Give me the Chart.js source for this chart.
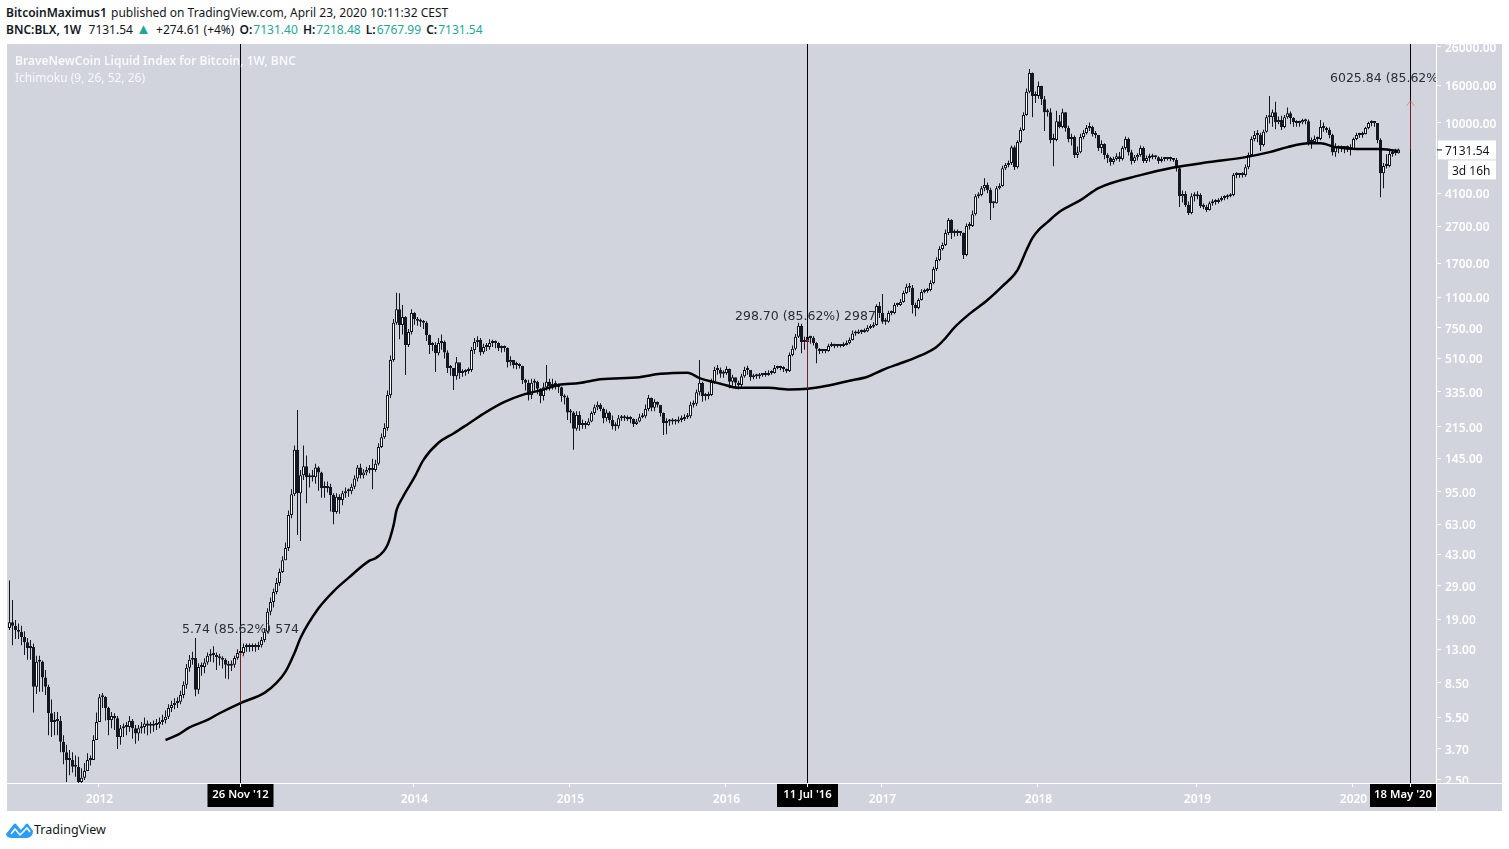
<!DOCTYPE html>
<html>
<head>
<meta charset="utf-8">
<title>BNC:BLX 1W</title>
<script src="https://cdn.jsdelivr.net/npm/chart.js@4/dist/chart.umd.min.js"></script>
<style>
    body { margin: 0; background: #fff; overflow: hidden; font-family: "Noto Sans", sans-serif; color: #131722; }
    .head { position: absolute; left: 6px; font-size: 12px; line-height: 16px; white-space: nowrap; }
    .head b { font-weight: 600; margin-left: 2px; margin-right: 1px; }
    .head b:first-child { margin-left: 0; }
    .head span { color: #26a69a; }
    .head i { font-style: normal; color: #26a69a; font-size: 15px; line-height: 12px; margin-right: 2px; }
    #panel { position: absolute; left: 7px; top: 44px; width: 1495px; height: 767px; background: #d1d4dc; overflow: hidden; }
    #myChart { display: block; }
    #logo { position: absolute; left: 6px; top: 822px; }
    #brand { position: absolute; left: 34px; top: 822px; font-size: 12.5px; line-height: 16px; }
</style>
</head>
<body>
<div class="head" style="top:5px"><b>BitcoinMaximus1</b> published on TradingView.com, April 23, 2020 10:11:32 CEST</div>
<div class="head" style="top:22px"><b>BNC:BLX, 1W</b>&nbsp; 7131.54 <i>▲</i> +274.61 (+4%) <b>O:</b><span>7131.40</span> <b>H:</b><span>7218.48</span> <b>L:</b><span>6767.99</span> <b>C:</b><span>7131.54</span></div>
<div id="panel"><canvas id="myChart" width="1495" height="767"></canvas></div>
<svg id="logo" width="27" height="16" viewBox="0 0 27 16"><path d="M0 12 L8 2 Q9 1 10 2 L15 8 L20 2 Q21 1 22 2 L27 9 Q27 15 21 16 L5 16 Q0 15 0 12 Z" fill="#2a9df4"/><path d="M5 12 L9 7 L14 13 L21 6 L24 10" fill="none" stroke="#fff" stroke-width="1.5"/></svg>
<div id="brand">TradingView</div>
<script>
// weekly candles, first one is the week of 6 Jun 2011
const closes = [
    18.3,17.5,16.6,16.2,15.2,14.2,13.2,13.4,8.1,11.1,
    11.1,9.1,8.1,5.8,5.2,5.33,5.26,4.05,3.55,3.22,
    3.22,2.95,2.95,2.44,2.57,2.8,3.22,3.22,4.14,5.2,
    7.1,7.13,6.2,5.33,5.6,5.45,4.3,4.8,4.88,4.88,
    5.26,4.8,4.5,4.8,4.88,5.1,4.95,4.95,5.0,5.05,
    5.2,5.33,5.55,6.2,6.44,6.6,6.7,7.3,8.3,10.3,
    11.4,11.65,7.8,10.4,10.4,11,12,12.2,12.1,11.8,
    11.6,11.4,10.7,10.55,10.7,11.65,12.4,12.4,13.4,13.4,
    13.4,13.4,13.4,13.7,14.6,16.2,20.9,23.6,26.8,30,
    34.5,40,46.7,70.8,92,161,93,117,131,114,
    114,114,129,121,99.5,99.5,101,91,73.5,89,
    85.5,93,95.5,95.5,101,112,129,117,121,125,
    128,125,135,167,189,212,322,500,800,950,
    778,860,605,712,905,840,820,810,800,686,
    605,605,545,620,628,550,452,452,408,486,
    425,430,436,441,568,628,644,552,590,590,
    620,620,620,582,582,582,486,500,470,470,
    464,389,375,322,375,380,348,318,355,380,
    360,370,365,355,318,312,258,258,210,250,
    220,226,220,230,256,276,284,270,240,258,
    235,217,217,240,240,240,238,238,223,230,
    243,246,270,310,274,295,284,256,226,230,
    230,232,230,235,238,243,246,284,288,333,
    375,318,318,322,380,441,441,420,425,447,
    380,403,375,365,408,441,441,403,408,408,
    414,414,414,425,425,452,452,452,447,436,
    533,576,670,770,628,628,670,660,620,576,
    560,560,560,597,605,597,597,597,605,620,
    644,700,700,712,712,720,750,760,778,988,
    905,810,810,905,905,1001,1001,1040,1165,1260,
    1245,1001,965,1066,1180,1195,1209,1320,1575,1766,
    2030,2133,2480,2924,2480,2480,2480,2480,1880,2710,
    2710,3150,3955,4008,4375,4547,4269,3620,3620,4375,
    4490,5630,5851,6000,7340,5700,7825,9098,10993,14750,
    18700,13970,13970,15850,13450,11400,11400,8020,8020,10190,
    9450,11400,9330,8120,8330,6638,6890,8330,8760,9330,
    9450,8650,8542,7250,7630,6638,6390,6080,6310,6550,
    6310,7250,8120,6890,6155,6470,6638,7250,6155,6390,
    6550,6470,6470,6155,6310,6310,6310,6310,6232,5630,
    3955,4060,3533,3200,3955,3955,4008,3490,3445,3317,
    3620,3670,3670,3763,3860,3905,3955,4008,5158,5158,
    5158,5158,5700,6638,8120,8542,8542,7530,8900,10700,
    10700,11400,10060,10321,9450,10700,11260,10590,10060,9940,
    10060,10321,10190,7825,7825,8120,8120,9450,9330,9098,
    8542,6890,7340,7250,7250,7250,7340,7160,8120,8542,
    8542,8650,9330,9940,9940,9940,8020,5280,5780,5780,
    6720,6800,6800,7131.54
];
const highs = [
    31,24.2,18.8,18,17.5,16.3,15,14.6,14,12,
    12,11.3,10,8.3,6.9,5.9,5.9,5.6,4.4,3.9,
    3.65,3.55,3.4,3.35,2.9,3.1,3.5,3.4,4.4,5.85,
    7.4,7.5,7.2,6.3,5.9,5.8,5.6,5,5.1,5.2,
    5.6,5.4,5,5,5.2,5.5,5.3,5.2,5.3,5.4,
    5.5,5.7,6,6.5,6.8,7,7.1,7.7,8.7,10.8,
    12.1,12.6,15,10.9,11,11.6,12.5,13,13.5,12.5,
    12.3,11.9,11.6,11.2,11.3,12,13,13,14,14,
    14,14,14,14.3,15.2,17,21.8,25,28,32,
    36,42,50,75,98,170,266,125,170,150,
    120,125,135,131,122,108,108,105,93,93,
    92,96,100,99,105,117,133,135,126,130,
    133,144,142,175,198,225,340,530,840,1170,
    1160,1000,870,740,950,915,860,845,830,815,
    690,625,625,660,690,640,565,470,440,520,
    445,445,445,455,590,660,675,660,615,620,
    650,645,640,625,600,600,585,525,495,490,
    480,465,395,390,395,395,385,350,375,470,
    395,395,385,372,358,325,320,270,262,262,
    262,236,232,240,262,285,296,290,275,268,
    262,248,228,250,250,250,248,246,240,238,
    254,256,285,322,312,305,296,280,258,240,
    238,240,238,245,248,252,256,295,300,345,
    500,380,330,335,395,460,470,455,440,462,
    450,415,400,385,420,460,465,440,420,420,
    425,425,435,440,440,470,465,465,462,450,
    550,600,695,800,790,670,690,680,675,625,
    580,575,575,615,625,615,612,612,625,640,
    665,725,725,735,735,745,775,785,805,1010,
    1040,1150,850,930,935,1030,1030,1080,1200,1310,
    1320,1290,1030,1090,1220,1230,1240,1370,1620,1830,
    2100,2200,2600,3000,2950,2600,2600,2550,2500,2800,
    2850,3300,4050,4150,4500,4950,4700,4400,3700,4500,
    4650,5800,6000,6200,7500,7500,8000,9400,11400,15400,
    19650,18800,14800,16800,15900,14000,11900,12000,8700,11600,
    11000,11900,11400,9600,8700,8500,7400,8700,9100,9700,
    10000,9600,9000,8500,8000,7700,6800,6500,6500,6800,
    6900,7450,8400,8300,7100,6650,6800,7500,7400,6600,
    6750,6750,6650,6550,6500,6450,6450,6500,6400,6400,
    5700,4250,4200,3700,4100,4150,4200,4100,3600,3550,
    3700,3800,3800,3850,3950,4000,4050,4100,5300,5350,
    5300,5350,5900,6850,8400,9000,9100,8800,9150,11000,
    13970,11800,13000,10800,10900,11000,12100,11500,10700,10300,
    10250,10500,10500,10400,8300,8500,8400,10321,10000,9500,
    9400,8700,7700,7500,7500,7400,7500,7600,8300,8800,
    8800,8900,9500,10100,10300,10200,9950,8200,6000,6700,
    7000,7100,7200,7218.48
];
const lows = [
    16.6,13.7,14.8,14.8,13.7,12.1,11.4,11.4,5.85,7.4,
    7.6,7.6,7.3,4.4,4.3,4.4,4.4,3.55,3.05,2.44,
    2.65,2.75,2.6,2.3,2.3,2.5,2.95,3,3.8,4.8,
    6.6,6.2,5.3,4.4,4.8,4.7,3.7,3.9,4.3,4.4,
    4.6,4.2,3.95,4.1,4.5,4.5,4.4,4.5,4.6,4.7,
    4.8,5,5.1,5.4,5.9,6.1,6.2,6.5,7,7.9,
    9.8,10.7,7.2,7.4,9.3,9.6,10.7,11.1,11,10,
    10.6,10.2,9,8.9,9.9,10.3,11.4,11.8,12,12.6,
    12.6,12.7,12.6,12.9,13.3,14.2,16,20,22,26,
    29,34,40,45,68,90,55,51,110,82,
    100,108,105,96,88,88,94,74,63,72,
    72,80,88,89,92,98,108,112,112,117,
    120,98,122,132,165,185,205,310,490,780,
    650,690,414,590,690,780,770,760,740,635,
    540,560,430,530,570,510,425,410,343,390,
    395,405,410,420,430,540,590,530,540,560,
    570,590,580,560,550,555,455,465,450,445,
    450,370,340,300,306,340,325,290,300,340,
    340,345,345,330,295,285,235,225,161,205,
    205,210,210,218,228,250,265,262,225,230,
    225,208,205,210,232,232,232,225,215,220,
    228,240,240,262,262,262,275,245,194,196,
    218,222,222,225,228,232,238,240,275,280,
    320,295,300,305,318,370,415,400,400,415,
    350,362,355,345,355,400,415,385,392,395,
    395,405,405,410,415,420,445,440,430,425,
    430,525,565,660,545,570,610,615,600,480,
    540,545,545,555,590,580,585,585,590,600,
    610,640,680,695,695,705,710,740,750,770,
    850,790,780,800,880,890,980,990,1030,1150,
    1180,900,870,950,1060,1160,1170,1190,1300,1540,
    1740,1990,2110,2420,2300,2380,2390,2400,1790,1850,
    2600,2680,3100,3850,3950,4200,4100,2924,3400,3600,
    4300,4450,5500,5700,5850,5500,5600,7700,9000,10900,
    14500,10700,12800,13500,12500,9000,10800,7700,5770,7900,
    9300,9300,8900,7800,7500,6400,6400,6800,8100,8600,
    9000,8400,8200,7000,6800,6300,6000,5800,5900,6200,
    6100,6200,7100,6600,5900,6000,6200,6500,6000,6000,
    6100,6300,6300,5950,6050,6150,6200,6150,6100,5400,
    3445,3650,3450,3114,3150,3700,3800,3400,3350,3240,
    3300,3500,3550,3600,3700,3750,3800,3900,3950,4950,
    4980,5000,5050,5550,6500,7900,7800,7000,7400,8800,
    9900,9500,9200,9800,9100,9300,10500,9800,9500,9500,
    9500,9800,9800,7500,7200,7700,7800,8000,8900,8800,
    8200,6600,6500,6800,6900,6800,6900,6600,7100,8000,
    8250,8250,8600,9200,9550,9500,7700,3905,4375,5600,
    5700,6500,6600,6767.99
];
const firstOpen = 17.0;

// the thick ichimoku line, read at these weeks only
const ichimokuWeeks = [52,56,60,66,70,77,85,89,92,95,97,103,108,113,120,122,126,128,129,131,135,138,143,148,153,159,165,171,178,183,190,197,210,217,226,230,237,243,253,260,266,272,280,286,291,297,302,309,312,315,320,326,331,336,339,341,343,346,350,357,363,377,388,400,412,420,426,433,437,442,449,456,463];
const ichimokuValues = [4.14,4.41,4.85,5.33,5.8,6.6,7.5,8.5,9.8,12.4,15,21.8,27,32,39.8,41,48.5,62,75,88,114,142,176,198,224,260,295,322,345,365,374,392,403,420,426,398,371,352,352,345,348,360,385,405,441,480,515,590,660,755,895,1066,1270,1556,2003,2335,2577,2850,3250,3763,4380,5158,5680,6080,6470,6890,7340,7700,7700,7340,7160,7160,7000];

const yTicks = [26000,16000,10000,4100,2700,1700,1100,750,510,335,215,145,95,63,43,29,19,13,8.5,5.5,3.7,2.5];
const yearWeeks = [30,135,187,239,291,343,396,448];
const yearLabels = ['2012','2014','2015','2016','2017','2018','2019','2020'];

// the three vertical markers and their long position arrows
const markerWeeks = [77,266,467];
const markerLabels = ["26 Nov '12","11 Jul '16","18 May '20"];
const arrowBase = [6.6,348,7131.54];
const arrowTip = [12.4,650,13157];

const WEEK_COUNT = 476;
const weeks = [];
for (let i = 0; i < WEEK_COUNT; i++) {
    weeks.push(new Date(Date.UTC(2011, 5, 6 + i * 7)).toISOString().slice(0, 10));
}

// a weekly candle opens where the week before closed
const opens = closes.map((c, i) => i === 0 ? firstOpen : closes[i - 1]);

const DARK = '#131722';
const ARROW_RED = 'rgba(225,70,70,0.5)';

const wickData = closes.map((c, i) => [lows[i], highs[i]]);
const bodyData = closes.map((c, i) => [Math.min(opens[i], c), Math.max(opens[i], c)]);
const bodyColors = closes.map((c, i) => c >= opens[i] ? '#ffffff' : DARK);

const ichimokuData = weeks.map(() => null);
ichimokuWeeks.forEach((w, i) => { ichimokuData[w] = ichimokuValues[i]; });

const markerData = weeks.map(() => null);
const arrowData = weeks.map(() => null);
markerWeeks.forEach((w, i) => {
    markerData[w] = [2, 30000];
    arrowData[w] = [arrowBase[i], arrowTip[i]];
});

const overlay = {
    id: 'overlay',
    afterDatasetsDraw(chart) {
        const ctx = chart.ctx;
        const x = chart.scales.x;
        const y = chart.scales.y;
        const area = chart.chartArea;

        ctx.save();
        ctx.beginPath();
        ctx.rect(area.left, area.top, area.right - area.left, area.bottom - area.top);
        ctx.clip();

        // arrow heads
        ctx.strokeStyle = ARROW_RED;
        ctx.lineWidth = 1;
        markerWeeks.forEach((w, i) => {
            const px = x.getPixelForValue(w);
            const py = y.getPixelForValue(arrowTip[i]);
            ctx.beginPath();
            ctx.moveTo(px - 4, py + 5);
            ctx.lineTo(px, py);
            ctx.lineTo(px + 4, py + 5);
            ctx.stroke();
        });

        // measure texts
        ctx.fillStyle = '#2a2e39';
        ctx.font = '12.5px "DejaVu Sans"';
        ctx.textBaseline = 'middle';
        ctx.textAlign = 'left';
        ctx.fillText('5.74 (85.62%) 574', 175, 586);
        ctx.fillText('298.70 (85.62%) 2987', 728, 273);
        ctx.fillText('6025.84 (85.62%)', 1323, 35);

        // legend
        ctx.fillStyle = 'rgba(255,255,255,0.85)';
        ctx.font = '600 12px "Noto Sans"';
        ctx.fillText('BraveNewCoin Liquid Index for Bitcoin, 1W, BNC', 8, 18);
        ctx.font = '12px "Noto Sans"';
        ctx.fillText('Ichimoku (9, 26, 52, 26)', 8, 35);
        ctx.restore();
    },
    afterDraw(chart) {
        const ctx = chart.ctx;
        const x = chart.scales.x;
        const y = chart.scales.y;
        const area = chart.chartArea;
        const w = chart.width;
        const h = chart.height;

        ctx.save();
        // the last y label is cut by the time axis
        ctx.fillStyle = '#d1d4dc';
        ctx.fillRect(area.right, area.bottom, w - area.right, h - area.bottom);

        // axis lines
        ctx.fillStyle = '#ffffff';
        ctx.fillRect(0, area.bottom, w, 1);
        ctx.fillRect(area.right, 0, 1, h);

        // date boxes
        ctx.textAlign = 'center';
        ctx.textBaseline = 'middle';
        ctx.font = '600 11.3px "Noto Sans"';
        markerWeeks.forEach((m, i) => {
            const px = x.getPixelForValue(m);
            const bw = i === 1 ? 61 : 66;
            const left = Math.min(px - bw / 2, area.right - bw);
            ctx.fillStyle = '#000000';
            ctx.fillRect(left, area.bottom + 1, bw, 23);
            ctx.fillStyle = '#ffffff';
            ctx.fillText(markerLabels[i], left + bw / 2, area.bottom + 12);
            ctx.fillRect(px - 0.5, area.bottom + 1, 1, 3);
        });

        // last price and countdown
        const py = y.getPixelForValue(closes[closes.length - 1]);
        ctx.fillStyle = '#ffffff';
        ctx.fillRect(area.right + 2, py - 9, 58, 19);
        ctx.fillRect(area.right + 12, py + 11, 48, 19);
        ctx.fillStyle = DARK;
        ctx.fillRect(area.right + 1, py, 5, 1);
        ctx.textAlign = 'left';
        ctx.font = '12px "Noto Sans"';
        ctx.fillText('7131.54', area.right + 9, py + 2);
        ctx.fillText('3d 16h', area.right + 16, py + 22);
        ctx.restore();
    }
};

const config = {
    data: {
        labels: weeks,
        datasets: [
            { type: 'line', label: 'Ichimoku', data: ichimokuData, spanGaps: true, borderColor: '#000000', borderWidth: 2.5, pointRadius: 0, cubicInterpolationMode: 'monotone', order: 1 },
            { type: 'bar', label: 'Arrows', data: arrowData, backgroundColor: ARROW_RED, barThickness: 1, inflateAmount: 0, order: 0 },
            { type: 'bar', label: 'Markers', data: markerData, backgroundColor: '#000000', barThickness: 1, inflateAmount: 0, order: 2 },
            { type: 'bar', label: 'Body', data: bodyData, backgroundColor: bodyColors, borderColor: DARK, borderWidth: 1, borderSkipped: false, barThickness: 3, minBarLength: 2, inflateAmount: 0, order: 3 },
            { type: 'bar', label: 'Wick', data: wickData, backgroundColor: DARK, barThickness: 1, inflateAmount: 0, order: 4 }
        ]
    },
    options: {
        responsive: false,
        animation: false,
        devicePixelRatio: 1,
        grouped: false,
        layout: { padding: { left: 1, right: 0, top: 0, bottom: 0 } },
        plugins: { legend: { display: false }, tooltip: { enabled: false } },
        scales: {
            x: {
                type: 'category',
                offset: true,
                afterFit(scale) { scale.height = 28; scale.paddingLeft = 0; scale.paddingRight = 0; },
                border: { display: false },
                grid: {
                    drawOnChartArea: false,
                    tickLength: 4,
                    color: (c) => yearWeeks.includes(c.index) ? '#ffffff' : 'transparent'
                },
                ticks: {
                    autoSkip: false,
                    maxRotation: 0,
                    padding: 5,
                    color: '#ffffff',
                    font: { family: 'Noto Sans', size: 12, weight: '600' },
                    callback(value, index) {
                        const k = yearWeeks.indexOf(index);
                        return k >= 0 ? yearLabels[k] : '';
                    }
                }
            },
            y: {
                type: 'logarithmic',
                position: 'right',
                min: 2.406,
                max: 26965,
                afterFit(scale) { scale.width = 66; scale.paddingTop = 0; scale.paddingBottom = 0; },
                afterBuildTicks(scale) { scale.ticks = yTicks.map((v) => ({ value: v })); },
                border: { display: false },
                grid: { drawOnChartArea: false, tickLength: 5, color: '#ffffff' },
                ticks: {
                    autoSkip: false,
                    padding: 4,
                    color: '#ffffff',
                    // two line label with a tiny line height moves the text down a bit
                    font: { family: 'Noto Sans', size: 12, weight: '600', lineHeight: 0.25 },
                    callback(value) { return ['', Number(value).toFixed(2)]; }
                }
            }
        }
    },
    plugins: [overlay]
};

const myChart = new Chart(document.getElementById('myChart'), config);
</script>
</body>
</html>
